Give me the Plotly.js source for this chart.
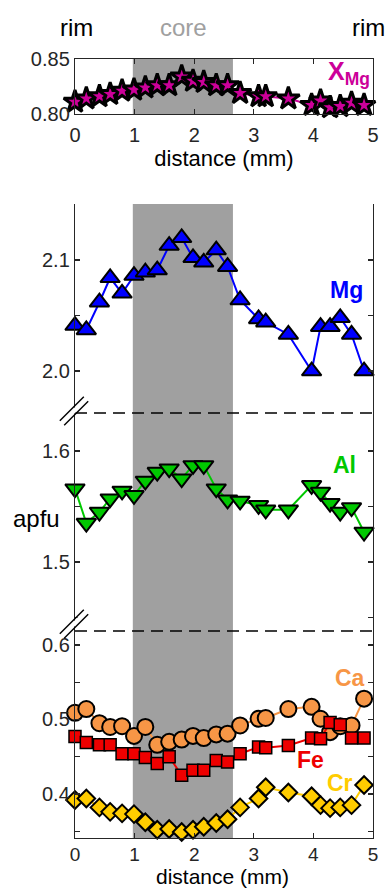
<!DOCTYPE html>
<html>
<head>
<meta charset="utf-8">
<script src="https://cdn.plot.ly/plotly-3.0.1.min.js"></script>
<style>
  html, body { margin: 0; padding: 0; background: #fff; }
  #chart { width: 385px; height: 890px; }
</style>
</head>
<body>
<div id="chart"></div>
<script>
// Traverse distance (mm) of each spot analysis, rim to rim
const distance = [0, 0.19, 0.41, 0.59, 0.79, 0.99, 1.18, 1.38, 1.58, 1.79, 1.98, 2.16,
                  2.37, 2.56, 2.77, 3.08, 3.20, 3.58, 3.97, 4.12, 4.28, 4.45, 4.64, 4.85];

// Mg number X_Mg
const xMg = [0.811, 0.814, 0.816, 0.818, 0.821, 0.822, 0.824, 0.826, 0.826, 0.834, 0.830, 0.829,
             0.826, 0.826, 0.819, 0.816, 0.816, 0.814, 0.808, 0.812, 0.806, 0.807, 0.810, 0.808];

// Cations per formula unit (apfu)
const mg = [2.041, 2.037, 2.062, 2.084, 2.070, 2.086, 2.089, 2.091, 2.113, 2.120, 2.102, 2.098,
            2.109, 2.094, 2.064, 2.047, 2.044, 2.033, 2.000, 2.040, 2.040, 2.048, 2.033, 2.000];
const al = [1.566, 1.535, 1.545, 1.557, 1.564, 1.560, 1.573, 1.581, 1.584, 1.575, 1.587, 1.587,
            1.566, 1.556, 1.555, 1.551, 1.547, 1.547, 1.569, 1.563, 1.553, 1.545, 1.549, 1.527];
const ca = [0.509, 0.514, 0.495, 0.490, 0.491, 0.478, 0.490, 0.466, 0.470, 0.473, 0.478, 0.475,
            0.480, 0.481, 0.492, 0.501, 0.502, 0.514, 0.517, 0.501, 0.483, 0.491, 0.492, 0.528];
const fe = [0.477, 0.469, 0.466, 0.466, 0.454, 0.454, 0.449, 0.441, 0.450, 0.425, 0.432, 0.432,
            0.445, 0.443, 0.454, 0.463, 0.462, 0.465, 0.475, 0.474, 0.496, 0.493, 0.475, 0.475];
const cr = [0.392, 0.394, 0.382, 0.376, 0.374, 0.373, 0.362, 0.352, 0.353, 0.349, 0.352, 0.356,
            0.361, 0.366, 0.382, 0.394, 0.409, 0.402, 0.397, 0.385, 0.381, 0.382, 0.385, 0.412];

// Core zone along the traverse (mm)
const coreZone = [0.97, 2.65];

// Axis ticks (labelled majors; unlabelled minors every 0.05)
const distTicks = [0, 1, 2, 3, 4, 5];
const xMgTicks = [0.80, 0.85], xMgTickText = ['0.80', '0.85'];
const mgTicks = [2.0, 2.1], mgTickText = ['2.0', '2.1'];
const alTicks = [1.5, 1.6], alTickText = ['1.5', '1.6'];
const lowTicks = [0.4, 0.5, 0.6], lowTickText = ['0.4', '0.5', '0.6'];
const minorStep = 0.05;

// ---- page geometry (pixels) ----
const W = 385, H = 890;
const M = { l: 75, r: 12, t: 59, b: 52 };
const plotW = W - M.l - M.r, plotH = H - M.t - M.b;
const px = x => (x - M.l) / plotW;            // pixel x -> paper
const py = y => (H - M.b - y) / plotH;        // pixel y -> paper

const topPanel = [py(114), 1];
const mainTop = py(204), brk1 = py(413), brk2 = py(631);

const FONT = 'Liberation Sans, Arial, Helvetica, sans-serif';
const INK = '#262626';
const TICK_FONT = { family: FONT, size: 20, color: INK };
const TITLE_FONT = { family: FONT, size: 22, color: '#000' };

const colors = {
  xmg: '#cc0099', mg: '#0000ff', al: '#00c800', ca: '#f79646', fe: '#ee0000', cr: '#ffcc00'
};

function series(y, yaxis, xaxis, color, symbol, size, lw) {
  return {
    x: distance, y: y, xaxis: xaxis, yaxis: yaxis, type: 'scatter', mode: 'lines+markers',
    cliponaxis: false, hoverinfo: 'skip',
    line: { color: color, width: 2 },
    marker: { symbol: symbol, size: size, color: color, line: { color: '#000', width: lw } }
  };
}

const traces = [
  series(xMg, 'y', 'x', colors.xmg, 'star', 17, 3),
  series(mg, 'y2', 'x2', colors.mg, 'triangle-up', 17, 2),
  series(al, 'y3', 'x2', colors.al, 'triangle-down', 17, 2),
  series(ca, 'y4', 'x2', colors.ca, 'circle', 16, 2),
  series(fe, 'y4', 'x2', colors.fe, 'square', 12, 1.5),
  series(cr, 'y4', 'x2', colors.cr, 'diamond', 13.5, 2)
];

const baseAxis = {
  showline: true, linecolor: INK, linewidth: 1.2, ticks: 'inside', ticklen: 5,
  tickcolor: INK, tickwidth: 1.2, showgrid: false, zeroline: false, tickfont: TICK_FONT,
  fixedrange: true
};
const minor = { tick0: 0, dtick: minorStep, ticks: 'inside', ticklen: 5, tickcolor: INK, tickwidth: 1.2, showgrid: false };

function breakMark(cx, cy) {
  // two parallel slashes with a white gap, cutting the left axis
  const h = 12, o = 2.2;
  const seg = (dx, color, width) => ({
    type: 'line', xref: 'paper', yref: 'paper', layer: 'above',
    x0: px(cx - h + dx), y0: py(cy + h + dx), x1: px(cx + h + dx), y1: py(cy - h + dx),
    line: { color: color, width: width }
  });
  return [seg(0, '#fff', 4), seg(-o, '#000', 1.4), seg(o, '#000', 1.4)];
}

const shapes = [
  { type: 'rect', xref: 'x', yref: 'paper', x0: coreZone[0], x1: coreZone[1], y0: topPanel[0], y1: 1,
    fillcolor: '#a0a0a0', line: { width: 0 }, layer: 'below' },
  { type: 'rect', xref: 'x2', yref: 'paper', x0: coreZone[0], x1: coreZone[1], y0: 0, y1: mainTop,
    fillcolor: '#a0a0a0', line: { width: 0 }, layer: 'below' },
  { type: 'line', xref: 'paper', yref: 'paper', x0: 0, x1: 1, y0: brk1, y1: brk1,
    line: { color: '#000', width: 1.4, dash: '12px,7px' } },
  { type: 'line', xref: 'paper', yref: 'paper', x0: 0, x1: 1, y0: brk2, y1: brk2,
    line: { color: '#000', width: 1.4, dash: '12px,7px' } },
  ...breakMark(74, 411),
  ...breakMark(74, 624)
];

function label(text, x, y, color, size) {
  return {
    text: text, xref: 'paper', yref: 'paper', x: px(x), y: py(y), showarrow: false,
    xanchor: 'center', yanchor: 'middle', font: { family: FONT, size: size, color: color }
  };
}

const annotations = [
  label('rim', 76, 28, '#000', 24),
  label('core', 183, 28, '#a0a0a0', 24),
  label('rim', 368, 28, '#000', 24),
  label('<b>X<sub>Mg</sub></b>', 349, 73, colors.xmg, 25),
  label('<b>Mg</b>', 346, 290, colors.mg, 23),
  label('<b>Al</b>', 344, 465, colors.al, 23),
  label('<b>Ca</b>', 350, 678, colors.ca, 23),
  label('<b>Fe</b>', 310, 760, colors.fe, 23),
  label('<b>Cr</b>', 340, 783, colors.cr, 23),
  label('apfu', 36, 518, '#000', 24),
  // x-axis title of the main panel
  Object.assign(label('distance (mm)', 222, 876, '#000', 21), { borderpad: 0 })
];

const layout = {
  width: W, height: H, margin: M, showlegend: false,
  paper_bgcolor: '#fff', plot_bgcolor: 'rgba(0,0,0,0)',
  font: { family: FONT, color: INK },
  xaxis: Object.assign({}, baseAxis, {
    domain: [0, 1], anchor: 'y', range: [0, 5], tickvals: distTicks, mirror: 'ticks',
    ticklabelstandoff: 3,
    title: { text: 'distance (mm)', font: TITLE_FONT, standoff: 1 }
  }),
  yaxis: Object.assign({}, baseAxis, {
    domain: topPanel, anchor: 'x', range: [0.80, 0.85], tickvals: xMgTicks, ticktext: xMgTickText,
    mirror: 'ticks'
  }),
  xaxis2: Object.assign({}, baseAxis, {
    domain: [0, 1], anchor: 'y4', range: [0, 5], tickvals: distTicks,
    ticklabelstandoff: -1, tickfont: { family: FONT, size: 19, color: INK }
  }),
  xaxis3: Object.assign({}, baseAxis, {
    overlaying: 'x2', anchor: 'y2', side: 'top', range: [0, 5], tickvals: distTicks,
    showticklabels: false
  }),
  yaxis2: Object.assign({}, baseAxis, {
    domain: [brk1, mainTop], anchor: 'x2', range: [1.9622, 2.1505], tickvals: mgTicks,
    ticktext: mgTickText, mirror: 'ticks', minor: minor
  }),
  yaxis3: Object.assign({}, baseAxis, {
    domain: [brk2, brk1], anchor: 'x2', range: [1.4378, 1.6342], tickvals: alTicks,
    ticktext: alTickText, mirror: 'ticks', minor: minor
  }),
  yaxis4: Object.assign({}, baseAxis, {
    domain: [0, brk2], anchor: 'x2', range: [0.3409, 0.6188], tickvals: lowTicks,
    ticktext: lowTickText, mirror: 'ticks', minor: minor
  }),
  shapes: shapes,
  annotations: annotations
};

Plotly.newPlot('chart', traces, layout, { displayModeBar: false, staticPlot: true });
</script>
</body>
</html>
